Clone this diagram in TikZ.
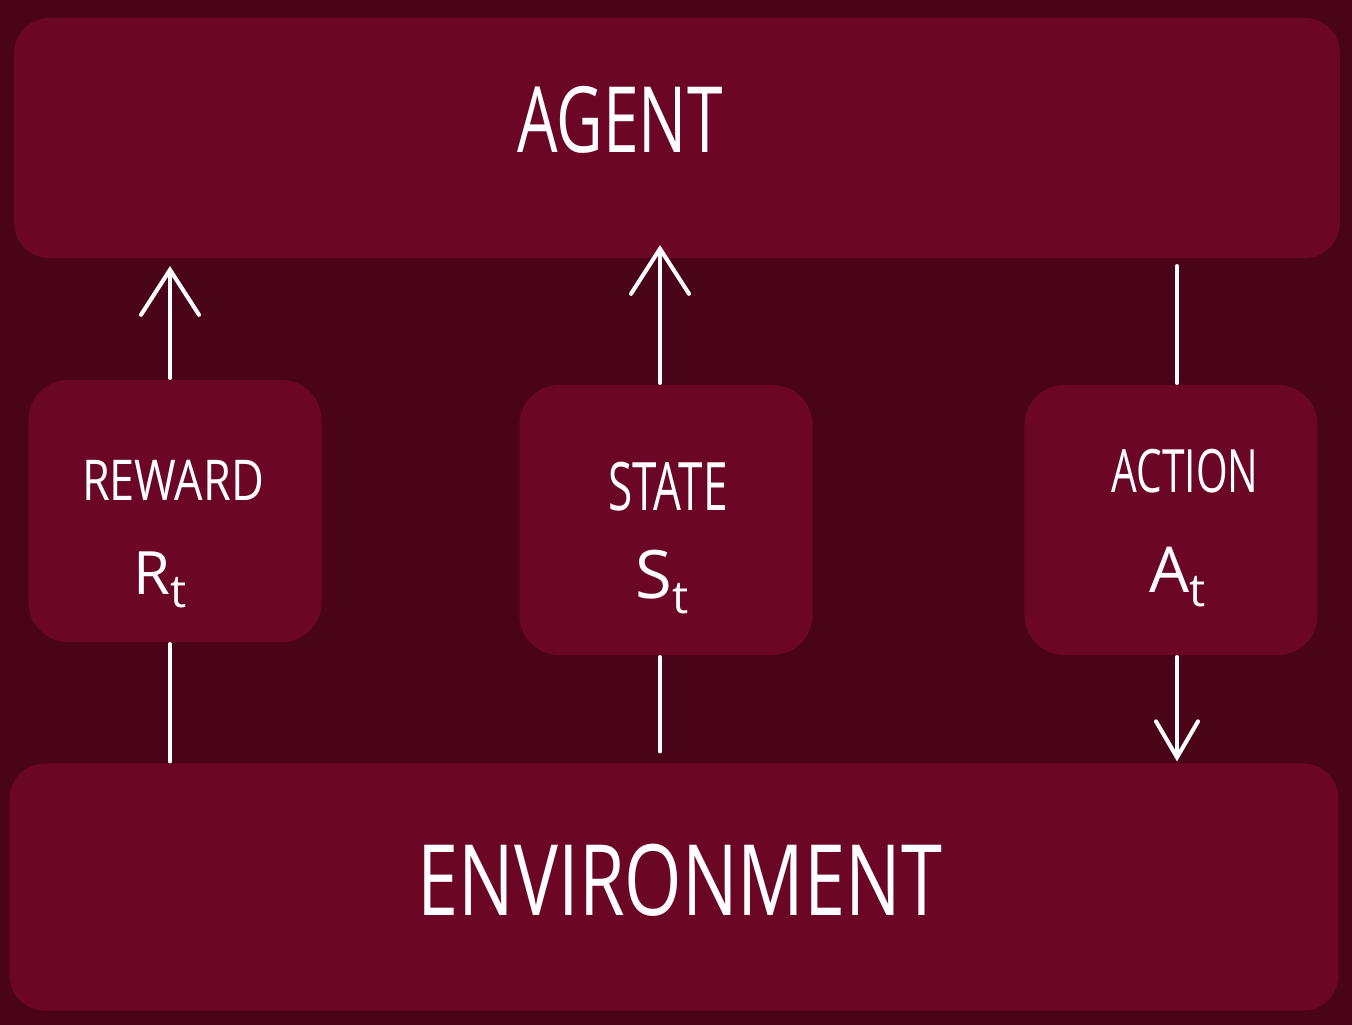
\documentclass[tikz,border=0pt]{standalone}
\usepackage{fontspec}
\setmainfont{Open Sans}
\usepackage{graphicx}
\usetikzlibrary{arrows.meta}

\definecolor{bgmaroon}{HTML}{4A0418}
\definecolor{boxmaroon}{HTML}{6C0625}

\newcommand{\narrowtext}[2]{\scalebox{#1}[1]{#2}}
\newcommand{\sub}[2]{#1\raisebox{-0.4ex}{\fontsize{13}{14}\selectfont #2}}

\begin{document}
\begin{tikzpicture}[x=0.01cm,y=-0.01cm,line width=1.15pt,
  big box/.style={fill=boxmaroon,rounded corners=0.35cm,inner sep=0pt},
  small box/.style={fill=boxmaroon,rounded corners=0.4cm,inner sep=0pt,
    minimum width=2.93cm},
  label text/.style={text=white,inner sep=0pt},
  flow/.style={draw=white,line cap=round},
  arrow/.style={flow,-{Straight Barb[length=4.5mm,width=5.8mm,line cap=round]}},
  down arrow/.style={flow,-{Straight Barb[length=3.6mm,width=4.2mm,line cap=round]}}]

  % background and bounding box
  \fill[bgmaroon] (0,0) rectangle (1352,1025);
  \useasboundingbox (0,0) rectangle (1352,1025);

  % boxes
  \node[big box,minimum width=13.25cm,minimum height=2.40cm] (agent) at (677,138) {};
  \node[big box,minimum width=13.28cm,minimum height=2.47cm] (env) at (674,887) {};
  \node[small box,minimum height=2.62cm] (reward) at (175,511) {};
  \node[small box,minimum height=2.70cm] (state) at (666,520) {};
  \node[small box,minimum height=2.70cm] (action) at (1171,520) {};

  % texts
  \node[label text,font=\fontsize{26}{30}\selectfont] (agent label) at (620,120) {\narrowtext{0.7}{AGENT}};
  \node[label text,font=\fontsize{28}{32}\selectfont] (env label) at (680,880) {\narrowtext{0.75}{ENVIRONMENT}};
  \node[label text,font=\fontsize{16}{20}\selectfont] (reward label) at (173,480) {\narrowtext{0.8}{REWARD}};
  \node[label text,font=\fontsize{19}{22}\selectfont] (state label) at (668,487) {\narrowtext{0.66}{STATE}};
  \node[label text,font=\fontsize{17}{22}\selectfont] (action label) at (1185,471) {\narrowtext{0.68}{ACTION}};
  \node[label text,font=\fontsize{17}{20}\selectfont] (reward sym) at (160,580) {\sub{R}{t}};
  \node[label text,font=\fontsize{19}{22}\selectfont] (state sym) at (662,582) {\sub{S}{t}};
  \node[label text,font=\fontsize{18}{22}\selectfont] (action sym) at (1178,577) {\sub{A}{t}};

  % connectors
  \draw[flow] (env.north -| 170,0) -- (reward.south -| 170,0);
  \draw[arrow] (reward.north -| 170,0) -- ([yshift=-0.06cm]agent.south -| 170,0);
  \draw[flow] ([yshift=0.1cm]env.north -| 660,0) -- (state.south -| 660,0);
  \draw[arrow] (state.north -| 660,0) -- ([yshift=0.15cm]agent.south -| 660,0);
  \draw[flow] ([yshift=-0.06cm]agent.south -| 1177,0) -- (action.north -| 1177,0);
  \draw[down arrow] (action.south -| 1177,0) -- (env.north -| 1177,0);

\end{tikzpicture}
\end{document}
